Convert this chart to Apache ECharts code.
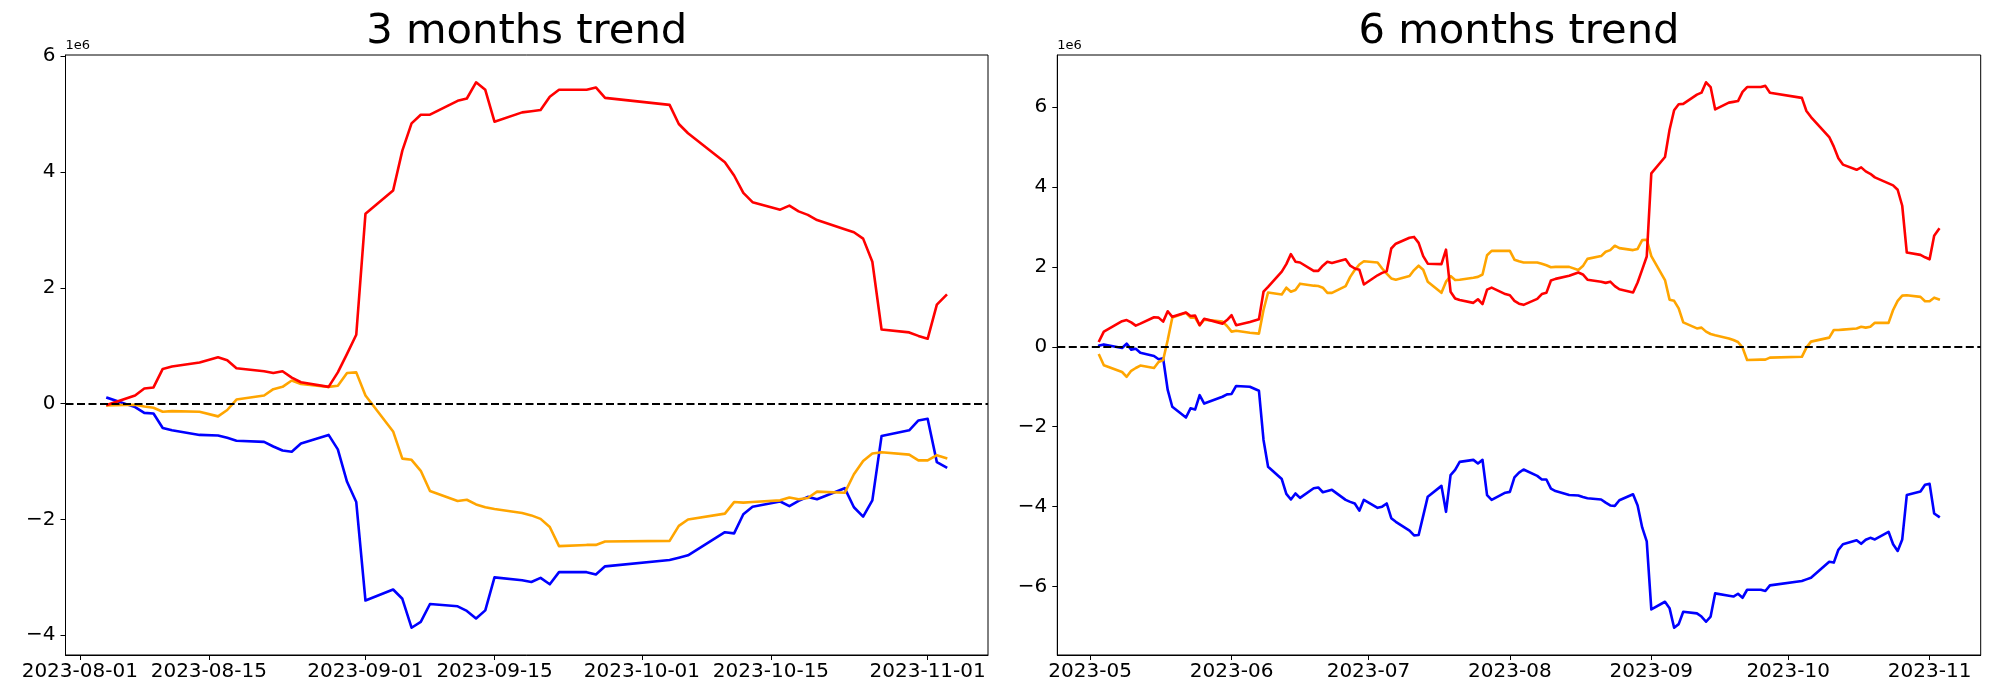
<!DOCTYPE html>
<html>
<head>
<meta charset="utf-8">
<script src="https://cdn.jsdelivr.net/npm/echarts@6/dist/echarts.min.js"></script>
<style>html,body{margin:0;padding:0;background:#fff}#c{width:2000px;height:700px}</style>
</head>
<body>
<div id="c"></div>
<script>
// ---------- DATA (values in units of 1e6) ----------
const titles = ['3 months trend', '6 months trend'];

const dates3m = ['2023-08-04','2023-08-07','2023-08-08','2023-08-09','2023-08-10','2023-08-11','2023-08-14','2023-08-16','2023-08-17','2023-08-18','2023-08-21','2023-08-22','2023-08-23','2023-08-24','2023-08-25','2023-08-28','2023-08-29','2023-08-30','2023-08-31',
'2023-09-01','2023-09-04','2023-09-05','2023-09-06','2023-09-07','2023-09-08','2023-09-11','2023-09-12','2023-09-13','2023-09-14','2023-09-15','2023-09-18','2023-09-19','2023-09-20','2023-09-21','2023-09-22','2023-09-25','2023-09-26','2023-09-27',
'2023-10-04','2023-10-05','2023-10-06','2023-10-10','2023-10-11','2023-10-12','2023-10-13','2023-10-16','2023-10-17','2023-10-18','2023-10-19','2023-10-20','2023-10-23','2023-10-24','2023-10-25','2023-10-26','2023-10-27','2023-10-30','2023-10-31',
'2023-11-01','2023-11-02','2023-11-03'];

const red3m = [-0.02,0.14,0.26,0.28,0.60,0.64,0.71,0.80,0.75,0.61,0.56,0.53,0.56,0.45,0.37,0.29,0.54,0.86,1.19,
3.28,3.68,4.37,4.84,4.99,4.99,5.23,5.27,5.55,5.42,4.87,5.03,5.05,5.07,5.30,5.42,5.42,5.46,5.28,
5.16,4.83,4.67,4.17,3.94,3.64,3.48,3.35,3.42,3.32,3.26,3.17,3.01,2.96,2.85,2.45,1.28,1.23,1.17,
1.12,1.71,1.87];

const blue3m = [0.10,-0.06,-0.16,-0.17,-0.42,-0.46,-0.54,-0.55,-0.59,-0.64,-0.66,-0.74,-0.81,-0.83,-0.69,-0.54,-0.79,-1.35,-1.70,
-3.40,-3.21,-3.37,-3.87,-3.77,-3.46,-3.50,-3.58,-3.71,-3.57,-3.00,-3.05,-3.08,-3.01,-3.12,-2.91,-2.91,-2.95,-2.81,
-2.70,-2.66,-2.62,-2.22,-2.24,-1.91,-1.78,-1.69,-1.77,-1.68,-1.61,-1.65,-1.46,-1.79,-1.95,-1.67,-0.56,-0.46,-0.29,
-0.26,-1.01,-1.10];

const orange3m = [-0.03,-0.02,-0.05,-0.07,-0.14,-0.13,-0.14,-0.22,-0.11,0.07,0.14,0.25,0.29,0.40,0.34,0.29,0.31,0.53,0.54,
0.14,-0.48,-0.95,-0.97,-1.16,-1.51,-1.68,-1.66,-1.74,-1.79,-1.82,-1.89,-1.93,-1.99,-2.13,-2.46,-2.44,-2.44,-2.38,
-2.37,-2.11,-2.00,-1.90,-1.70,-1.71,-1.70,-1.67,-1.62,-1.65,-1.63,-1.52,-1.54,-1.22,-0.99,-0.86,-0.84,-0.88,-0.98,
-0.98,-0.89,-0.94];

const dates6m = ['2023-05-03','2023-05-04','2023-05-08','2023-05-09','2023-05-10','2023-05-11','2023-05-12','2023-05-15','2023-05-16','2023-05-17','2023-05-18','2023-05-19','2023-05-22','2023-05-23','2023-05-24','2023-05-25','2023-05-26','2023-05-30','2023-05-31',
'2023-06-01','2023-06-02','2023-06-05','2023-06-07','2023-06-08','2023-06-09','2023-06-12','2023-06-13','2023-06-14','2023-06-15','2023-06-16','2023-06-19','2023-06-20','2023-06-21','2023-06-22','2023-06-23','2023-06-26','2023-06-27','2023-06-28','2023-06-29','2023-06-30',
'2023-07-03','2023-07-04','2023-07-05','2023-07-06','2023-07-07','2023-07-10','2023-07-11','2023-07-12','2023-07-13','2023-07-14','2023-07-17','2023-07-18','2023-07-19','2023-07-20','2023-07-21','2023-07-24','2023-07-25','2023-07-26','2023-07-27','2023-07-28','2023-07-31',
'2023-08-01','2023-08-02','2023-08-03','2023-08-04','2023-08-07','2023-08-08','2023-08-09','2023-08-10','2023-08-11','2023-08-14','2023-08-16','2023-08-17','2023-08-18','2023-08-21','2023-08-22','2023-08-23','2023-08-24','2023-08-25','2023-08-28','2023-08-29','2023-08-30','2023-08-31',
'2023-09-01','2023-09-04','2023-09-05','2023-09-06','2023-09-07','2023-09-08','2023-09-11','2023-09-12','2023-09-13','2023-09-14','2023-09-15','2023-09-18','2023-09-19','2023-09-20','2023-09-21','2023-09-22','2023-09-25','2023-09-26','2023-09-27',
'2023-10-04','2023-10-05','2023-10-06','2023-10-10','2023-10-11','2023-10-12','2023-10-13','2023-10-16','2023-10-17','2023-10-18','2023-10-19','2023-10-20','2023-10-23','2023-10-24','2023-10-25','2023-10-26','2023-10-27','2023-10-30','2023-10-31',
'2023-11-01','2023-11-02','2023-11-03'];

const red6m = [0.15,0.38,0.64,0.67,0.61,0.53,0.58,0.74,0.73,0.63,0.89,0.75,0.86,0.77,0.78,0.54,0.70,0.58,0.67,
0.79,0.54,0.62,0.69,1.38,1.50,1.88,2.07,2.32,2.13,2.11,1.90,1.90,2.03,2.13,2.10,2.19,2.03,1.96,1.93,1.56,
1.79,1.85,1.89,2.46,2.58,2.73,2.75,2.60,2.27,2.08,2.07,2.43,1.38,1.21,1.17,1.10,1.19,1.07,1.43,1.48,1.32,
1.29,1.15,1.08,1.05,1.20,1.32,1.35,1.66,1.70,1.78,1.86,1.81,1.68,1.63,1.60,1.63,1.52,1.44,1.36,1.61,1.93,2.26,
4.34,4.75,5.43,5.92,6.07,6.08,6.31,6.36,6.62,6.50,5.94,6.11,6.13,6.15,6.38,6.50,6.50,6.53,6.36,
6.23,5.90,5.75,5.25,5.01,4.72,4.56,4.43,4.49,4.39,4.33,4.24,4.09,4.04,3.93,3.53,2.36,2.30,2.24,
2.19,2.78,2.94];

const blue6m = [0.03,0.06,-0.03,0.08,-0.07,-0.05,-0.15,-0.23,-0.31,-0.29,-1.08,-1.50,-1.77,-1.54,-1.57,-1.21,-1.42,-1.25,-1.19,
-1.18,-0.98,-1.00,-1.10,-2.33,-3.00,-3.31,-3.68,-3.82,-3.67,-3.78,-3.54,-3.52,-3.64,-3.61,-3.58,-3.83,-3.88,-3.92,-4.10,-3.83,
-4.03,-4.00,-3.92,-4.29,-4.38,-4.60,-4.72,-4.71,-4.23,-3.75,-3.48,-4.13,-3.21,-3.08,-2.88,-2.83,-2.92,-2.83,-3.71,-3.83,-3.65,
-3.63,-3.27,-3.15,-3.07,-3.23,-3.32,-3.32,-3.55,-3.61,-3.71,-3.72,-3.76,-3.79,-3.82,-3.90,-3.97,-3.98,-3.84,-3.69,-3.97,-4.52,-4.87,
-6.57,-6.38,-6.54,-7.03,-6.94,-6.63,-6.67,-6.75,-6.88,-6.75,-6.17,-6.23,-6.25,-6.18,-6.28,-6.08,-6.08,-6.11,-5.97,
-5.86,-5.82,-5.78,-5.38,-5.40,-5.08,-4.94,-4.84,-4.93,-4.83,-4.78,-4.82,-4.63,-4.94,-5.11,-4.82,-3.71,-3.62,-3.45,
-3.43,-4.17,-4.25];

const orange6m = [-0.21,-0.46,-0.63,-0.75,-0.60,-0.53,-0.47,-0.53,-0.38,-0.33,0.17,0.73,0.85,0.73,0.73,0.54,0.68,0.63,0.52,
0.38,0.40,0.35,0.33,0.92,1.36,1.31,1.48,1.38,1.42,1.58,1.53,1.52,1.48,1.35,1.35,1.52,1.75,1.92,2.06,2.14,
2.11,1.96,1.83,1.71,1.68,1.77,1.92,2.03,1.93,1.63,1.35,1.63,1.77,1.67,1.68,1.73,1.75,1.81,2.29,2.40,2.40,
2.40,2.18,2.14,2.11,2.11,2.08,2.04,1.99,2.00,2.00,1.92,2.02,2.20,2.27,2.38,2.42,2.53,2.47,2.42,2.45,2.67,2.68,
2.27,1.67,1.18,1.15,0.96,0.61,0.46,0.48,0.38,0.32,0.29,0.21,0.17,0.12,-0.02,-0.33,-0.32,-0.32,-0.27,
-0.25,-0.02,0.13,0.23,0.42,0.42,0.43,0.46,0.50,0.48,0.50,0.60,0.60,0.92,1.15,1.28,1.29,1.25,1.14,
1.14,1.23,1.19];

const xTicks3m = ['2023-08-01','2023-08-15','2023-09-01','2023-09-15','2023-10-01','2023-10-15','2023-11-01'];
const xTicks6m = ['2023-05-01','2023-06-01','2023-07-01','2023-08-01','2023-09-01','2023-10-01','2023-11-01'];
const yTicks3m = [-4,-2,0,2,4,6];
const yTicks6m = [-6,-4,-2,0,2,4,6];
const offsetLabel = '1e6';

// ---------- BUILD ----------
const ts = s => new Date(s + 'T00:00:00').getTime();
const pad = n => (n < 10 ? '0' : '') + n;
const fmtDay = v => { const d = new Date(v); return d.getFullYear() + '-' + pad(d.getMonth() + 1) + '-' + pad(d.getDate()); };
const fmtMonth = v => { const d = new Date(v); return d.getFullYear() + '-' + pad(d.getMonth() + 1); };
const fmtY = v => String(Math.round(v)).replace('-', '\u2212');

function margins(arrs) {
  let lo = Infinity, hi = -Infinity;
  arrs.forEach(a => a.forEach(v => { lo = Math.min(lo, v); hi = Math.max(hi, v); }));
  const m = (hi - lo) * 0.05;
  return [lo - m, hi + m];
}
function xRange(dates) {
  const a = ts(dates[0]), b = ts(dates[dates.length - 1]);
  const m = (b - a) * 0.05;
  return [a - m, b + m];
}

const FONT = 'DejaVu Sans';
const COLORS = { blue: '#0000ff', orange: '#ffa500', red: '#ff0000' };
const grids = [
  { left: 65.5, top: 55, width: 922.5, height: 600 },
  { left: 1057.3, top: 55, width: 923.4, height: 600 }
];

function makeAxes(i, dates, ticks, fmt, yticks, vals) {
  const xr = xRange(dates);
  const yr = margins(vals);
  const xt = ticks.map(ts);
  const x = {
    type: 'value', gridIndex: i, min: xr[0], max: xr[1], scale: true,
    axisLine: { show: true, onZero: false, lineStyle: { color: '#000', width: 1 } },
    axisTick: { show: true, length: 5, lineStyle: { color: '#000', width: 1 }, customValues: xt },
    axisLabel: { show: true, customValues: xt, formatter: fmt, color: '#000', fontSize: 20, fontFamily: FONT, margin: 7, hideOverlap: false, showMinLabel: true, showMaxLabel: true },
    splitLine: { show: false }, minorTick: { show: false }
  };
  const y = {
    type: 'value', gridIndex: i, min: yr[0], max: yr[1],
    name: offsetLabel, nameLocation: 'end', nameGap: 3,
    nameTextStyle: { align: 'left', verticalAlign: 'bottom', fontSize: 13, fontFamily: FONT, color: '#000', padding: 0 },
    axisLine: { show: true, onZero: false, lineStyle: { color: '#000', width: 1 } },
    axisTick: { show: true, length: 5, lineStyle: { color: '#000', width: 1 }, customValues: yticks },
    axisLabel: { show: true, customValues: yticks, formatter: fmtY, color: '#000', fontSize: 20, fontFamily: FONT, margin: 10, showMinLabel: true, showMaxLabel: true },
    splitLine: { show: false }
  };
  return [x, y];
}

function makeSeries(i, dates, blue, orange, red) {
  const mk = (name, arr, color, extra) => Object.assign({
    type: 'line', name, xAxisIndex: i, yAxisIndex: i,
    data: dates.map((d, k) => [ts(d), arr[k]]),
    showSymbol: false, symbol: 'none', smooth: false,
    lineStyle: { color, width: 2.6, cap: 'square', join: 'round' },
    itemStyle: { color }, animation: false, silent: true
  }, extra || {});
  return [
    mk('blue', blue, COLORS.blue, {
      markLine: {
        silent: true, symbol: ['none', 'none'], animation: false,
        label: { show: false },
        lineStyle: { color: '#000', type: [8, 3.5], width: 2 },
        data: [{ yAxis: 0 }]
      }
    }),
    mk('orange', orange, COLORS.orange),
    mk('red', red, COLORS.red)
  ];
}

const a0 = makeAxes(0, dates3m, xTicks3m, fmtDay, yTicks3m, [red3m, blue3m, orange3m]);
const a1 = makeAxes(1, dates6m, xTicks6m, fmtMonth, yTicks6m, [red6m, blue6m, orange6m]);

const titleStyle = { fontSize: 41.7, fontWeight: 'normal', color: '#000', fontFamily: FONT, lineHeight: 44 };
const option = {
  backgroundColor: '#fff',
  animation: false,
  title: [
    { text: titles[0], left: 65.5 + 922.5 / 2, textAlign: 'center', top: 10, padding: 0, textStyle: titleStyle },
    { text: titles[1], left: 1057.3 + 923.4 / 2, textAlign: 'center', top: 10, padding: 0, textStyle: titleStyle }
  ],
  grid: grids.map(g => Object.assign({ show: true, borderColor: '#000', borderWidth: 1, backgroundColor: 'transparent', containLabel: false }, g)),
  xAxis: [a0[0], a1[0]],
  yAxis: [a0[1], a1[1]],
  series: makeSeries(0, dates3m, blue3m, orange3m, red3m).concat(makeSeries(1, dates6m, blue6m, orange6m, red6m))
};

const chart = echarts.init(document.getElementById('c'), null, { renderer: 'canvas' });
chart.setOption(option);
</script>
</body>
</html>
